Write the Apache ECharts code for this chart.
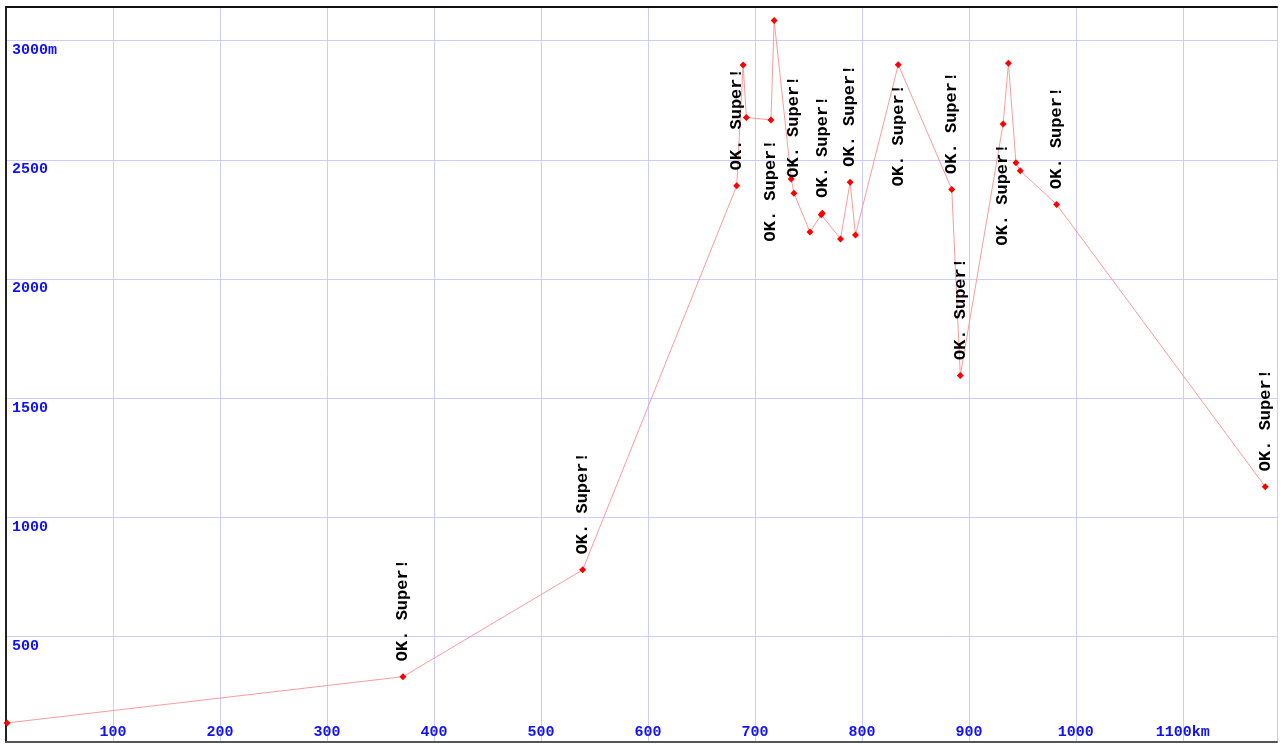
<!DOCTYPE html>
<html>
<head>
<meta charset="utf-8">
<script src="https://cdn.jsdelivr.net/npm/echarts@6/dist/echarts.min.js"></script>
<style>
html,body{margin:0;padding:0;background:#fff;}
#chart{width:1286px;height:744px;}
</style>
</head>
<body>
<div id="chart"></div>
<script>
// Distance along route (km)
const distanceKm = [1, 371, 539, 683, 689, 692, 715, 718, 734, 736.5, 751.5, 762, 763, 780, 789, 794, 834, 884, 892, 932, 937, 944, 948, 982, 1177];
// Elevation (m)
const elevationM = [138, 332, 780, 2391, 2898, 2678, 2667, 3084, 2420, 2360, 2197, 2270, 2276, 2168, 2406, 2185, 2899, 2376, 1595, 2650, 2905, 2488, 2454, 2313, 1129];
// Point labels ('' = none)
const pointLabels = ['', 'OK. Super!', 'OK. Super!', 'OK. Super!', '', '', 'OK. Super!', '', '', 'OK. Super!', '', '', 'OK. Super!', '', 'OK. Super!', '', 'OK. Super!', 'OK. Super!', 'OK. Super!', 'OK. Super!', '', '', '', 'OK. Super!', 'OK. Super!'];
// Indices whose label sits below the point
const labelsBelow = [6, 16, 19];

const AXIS_FONT = 'Liberation Mono';
const BLUE = '#1010ff';

const data = distanceKm.map((x, i) => {
  const item = { value: [x, elevationM[i]] };
  if (labelsBelow.includes(i)) {
    item.label = { position: 'bottom', align: 'right', distance: 16 };
  }
  return item;
});

const chart = echarts.init(document.getElementById('chart'), null, { renderer: 'canvas' });
chart.setOption({
  animation: false,
  backgroundColor: '#ffffff',
  grid: { left: 6, right: 9, top: 7, bottom: 2, containLabel: false },
  xAxis: [{
    type: 'value', min: 0, max: 1188, interval: 100,
    axisLine: { show: true, onZero: false, lineStyle: { color: '#555', width: 2 } },
    axisTick: { show: false },
    splitLine: { show: true, lineStyle: { color: '#ccccff', width: 1 } },
    axisLabel: {
      inside: true, margin: 2, verticalAlign: 'bottom',
      showMinLabel: false, showMaxLabel: false,
      fontFamily: AXIS_FONT, fontWeight: 'bold', fontSize: 15, color: BLUE,
      formatter: v => (v === 1100 ? '1100km' : (v > 0 && v % 100 === 0 ? String(v) : ''))
    }
  }, {
    type: 'value', position: 'top', min: 0, max: 1188,
    axisLine: { show: true, lineStyle: { color: '#111', width: 2 } },
    axisTick: { show: false }, axisLabel: { show: false }, splitLine: { show: false }
  }],
  yAxis: [{
    type: 'value', min: 58, max: 3141, splitNumber: 6,
    axisLine: { show: true, lineStyle: { color: '#ccccff', width: 1 } },
    axisTick: { show: false },
    splitLine: { show: true, lineStyle: { color: '#ccccff', width: 1 } },
    axisLabel: {
      inside: true, margin: 6, align: 'left', verticalAlign: 'top',
      padding: [2, 0, 0, 0],
      showMinLabel: false, showMaxLabel: false,
      fontFamily: AXIS_FONT, fontWeight: 'bold', fontSize: 15, color: BLUE,
      formatter: v => (v === 3000 ? '3000m' : (v % 500 === 0 ? String(v) : ''))
    }
  }, {
    type: 'value', position: 'right', min: 58, max: 3141,
    axisLine: { show: true, lineStyle: { color: '#222', width: 2 } },
    axisTick: { show: false }, axisLabel: { show: false }, splitLine: { show: false }
  }],
  series: [{
    type: 'line',
    xAxisIndex: 0, yAxisIndex: 0,
    data: data,
    lineStyle: { color: '#ff9a9a', width: 1 },
    symbol: 'diamond', symbolSize: 7,
    itemStyle: { color: '#ff0000' },
    showAllSymbol: true,
    clip: false,
    label: {
      show: true,
      formatter: p => pointLabels[p.dataIndex],
      rotate: 90, position: 'top', distance: 12,
      align: 'left', verticalAlign: 'middle',
      fontFamily: AXIS_FONT, fontWeight: 'bold', fontSize: 17, color: '#000'
    },
    labelLayout: { hideOverlap: false }
  }]
});
</script>
</body>
</html>
